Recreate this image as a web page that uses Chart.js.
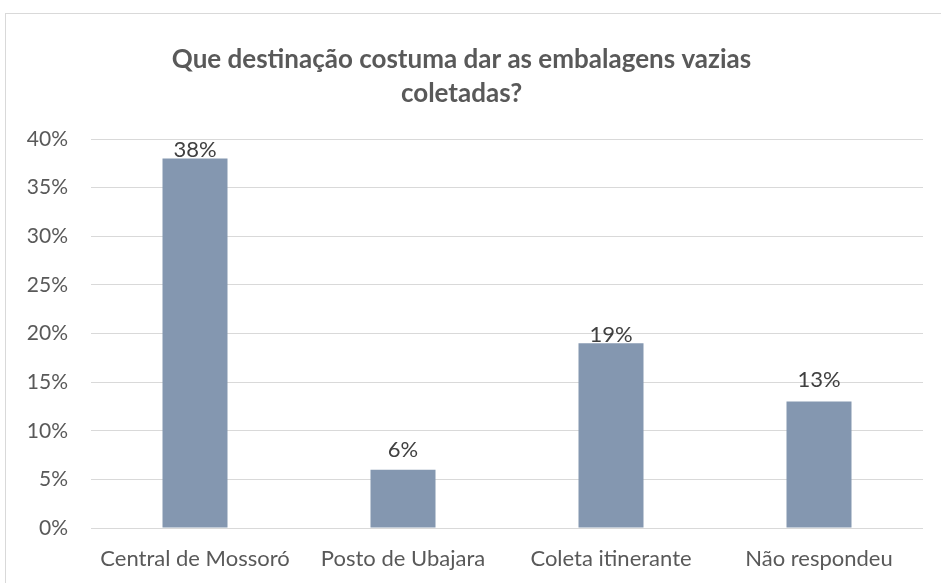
<!DOCTYPE html>
<html lang="pt">
<head>
<meta charset="UTF-8">
<title>Destinação das embalagens</title>
<script src="https://cdn.jsdelivr.net/npm/chart.js"></script>
<style>
  html, body { margin: 0; padding: 0; background: #fff; }
  #frame {
    position: absolute; left: 5px; top: 13px; width: 960px; height: 600px;
    border-top: 1px solid #d9d9d9; border-left: 1px solid #d9d9d9;
  }
  #wrap { position: absolute; left: 0; top: 0; width: 941px; height: 583px; }
</style>
</head>
<body>
<div id="frame"></div>
<div id="wrap"><canvas id="chart" width="941" height="583"></canvas></div>
<script>
const categorias = ['Central de Mossoró', 'Posto de Ubajara', 'Coleta itinerante', 'Não respondeu'];
const valores = [38, 6, 19, 13];
const titulo = ['Que destinação costuma dar as embalagens vazias', 'coletadas?'];

const fonte = 'Lato, "Open Sans", sans-serif';

// rótulos de valor acima de cada barra (alguns foram deslocados à mão)
const afastamento = [2, 13, 1, 15];
const rotulos = {
  id: 'rotulos',
  afterDatasetsDraw(chart) {
    const ctx = chart.ctx;
    const meta = chart.getDatasetMeta(0);
    ctx.save();
    ctx.font = '22px ' + fonte;
    ctx.fillStyle = '#404040';
    ctx.textAlign = 'center';
    ctx.textBaseline = 'alphabetic';
    meta.data.forEach((bar, i) => {
      ctx.fillText(valores[i] + '%', bar.x, bar.y - afastamento[i]);
    });
    ctx.restore();
  }
};

new Chart(document.getElementById('chart'), {
  type: 'bar',
  data: {
    labels: categorias,
    datasets: [{
      data: valores,
      backgroundColor: '#8497b0',
      categoryPercentage: 1,
      barPercentage: 0.3125
    }]
  },
  options: {
    responsive: false,
    animation: false,
    layout: { padding: { left: 0, right: 18, top: 0, bottom: 0 } },
    plugins: {
      legend: { display: false },
      tooltip: { enabled: false },
      title: {
        display: true,
        text: titulo,
        color: '#595959',
        font: { family: fonte, size: 26, weight: 'bold', lineHeight: 1.31 },
        padding: { top: 43, bottom: 28 }
      }
    },
    scales: {
      x: {
        grid: { display: false },
        border: { display: false },
        ticks: { color: '#595959', font: { family: fonte, size: 22 }, padding: 10 },
        afterFit(s) { s.height = 55; }
      },
      y: {
        min: 0,
        max: 40,
        grid: { color: '#d9d9d9', lineWidth: 1, drawTicks: false },
        border: { display: false },
        ticks: {
          stepSize: 5,
          color: '#595959',
          font: { family: fonte, size: 21 },
          padding: 23,
          callback: v => v + '%'
        },
        afterFit(s) { s.width = 91; }
      }
    }
  },
  plugins: [rotulos]
});
</script>
</body>
</html>
